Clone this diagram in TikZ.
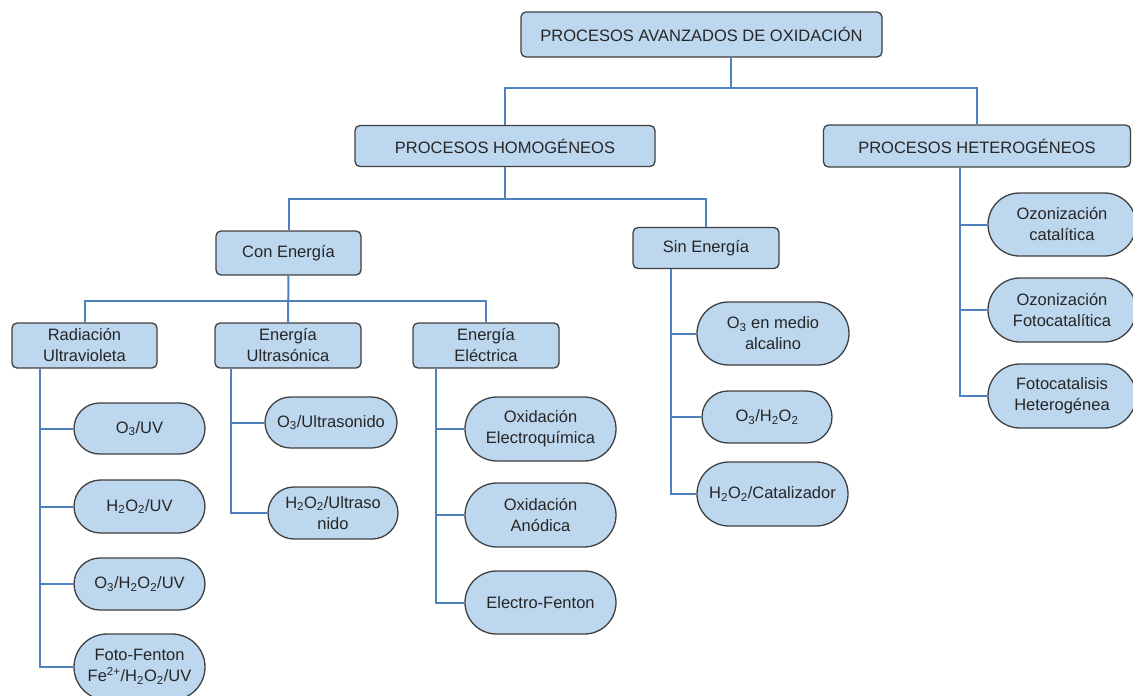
\documentclass[tikz,border=0pt]{standalone}
\usepackage{fontspec}
\setmainfont{Liberation Sans}
\usepackage{tikz}
\usetikzlibrary{shapes.misc}
\definecolor{boxfill}{HTML}{BDD7EE}
\definecolor{boxline}{HTML}{404040}
\definecolor{linkblue}{HTML}{4F81BD}
\definecolor{txtgray}{HTML}{262626}
\newcommand{\ozone}{O\textsubscript{3}}
\newcommand{\perox}{H\textsubscript{2}O\textsubscript{2}}
\begin{document}
\begin{tikzpicture}[x=1pt, y=-1pt,
    every node/.style={font=\fontsize{16.5}{21}\selectfont, text=txtgray, align=center, inner sep=0pt},
    head/.style={draw=boxline, fill=boxfill, line width=1.3pt, rounded corners=5pt},
    leaf/.style={rounded rectangle, draw=boxline, fill=boxfill, line width=1.3pt},
    wh/.style 2 args={minimum width=#1pt, minimum height=#2pt},
    link/.style={draw=linkblue, line width=2pt}]
        \useasboundingbox (0,0) rectangle (1133,696);
        % Nodes
        \node[head, wh={361}{45}] (pao) at (701.5, 34.5) {PROCESOS AVANZADOS DE OXIDACIÓN};
        \node[head, wh={300}{41}] (hom) at (505, 146) {PROCESOS HOMOGÉNEOS};
        \node[head, wh={307}{42}] (het) at (977, 146) {PROCESOS HETEROGÉNEOS};
        \node[head, wh={145}{44}] (con) at (288.5, 253) {Con Energía};
        \node[head, wh={146}{41}] (sin) at (706, 248) {Sin Energía};
        \node[head, wh={145}{45}] (rad) at (84.5, 345.5) {Radiación\\Ultravioleta};
        \node[head, wh={146}{45}] (ult) at (288, 345.5) {Energía\\Ultrasónica};
        \node[head, wh={146}{45}] (ele) at (486, 345.5) {Energía\\Eléctrica};
        \node[leaf, wh={131}{51}] (o3uv) at (139.5, 428.5) {\ozone/UV};
        \node[leaf, wh={131}{53}] (h2o2uv) at (139.5, 506.5) {\perox/UV};
        \node[leaf, wh={131}{52}] (o3h2o2uv) at (139.5, 584) {\ozone/\perox/UV};
        \node[leaf, wh={131}{66}] (foto) at (139.5, 667) {Foto-Fenton\\Fe\textsuperscript{2+}/\perox/UV};
        \node[leaf, wh={132}{51}] (o3us) at (331, 422.5) {\ozone/Ultrasonido};
        \node[leaf, wh={130}{52}] (h2o2us) at (333, 513) {\perox/Ultraso\\nido};
        \node[leaf, wh={151}{64}] (oxe) at (540.5, 429) {Oxidación\\Electroquímica};
        \node[leaf, wh={151}{64}] (oxa) at (540.5, 515) {Oxidación\\Anódica};
        \node[leaf, wh={151}{63}] (ef) at (540.5, 602.5) {Electro-Fenton};
        \node[leaf, wh={152}{63}] (o3alc) at (773, 333.5) {\ozone{} en medio\\alcalino};
        \node[leaf, wh={130}{52}] (o3h2o2) at (767, 417) {\ozone/\perox};
        \node[leaf, wh={151}{64}] (h2o2cat) at (772.5, 494) {\perox/Catalizador};
        \node[leaf, wh={148}{63}] (ozc) at (1062, 224.5) {Ozonización\\catalítica};
        \node[leaf, wh={148}{64}] (ozf) at (1062, 310) {Ozonización\\Fotocatalítica};
        \node[leaf, wh={148}{64}] (fh) at (1062, 396) {Fotocatalisis\\Heterogénea};
        % Edges
        \coordinate (top) at (731, 88);
        \coordinate (mid) at (505, 199);
        \coordinate (low) at (289, 301);
        \draw[link] (pao.south -| top) -- (top);
        \draw[link] (hom.north) |- (top) -| (het.north);
        \draw[link] (hom.south) -- (mid);
        \draw[link] (con.north) |- (mid) -| (sin.north);
        \draw[link] (con.south) -- (ult.north);
        \draw[link] (rad.north) |- (low) -| (ele.north);
        \foreach \n in {o3uv, h2o2uv, o3h2o2uv, foto}
            \draw[link] ([xshift=29pt]rad.south west) |- (\n.west);
        \foreach \n in {o3us, h2o2us}
            \draw[link] ([xshift=17pt]ult.south west) |- (\n.west);
        \foreach \n in {oxe, oxa, ef}
            \draw[link] ([xshift=24pt]ele.south west) |- (\n.west);
        \foreach \n in {o3alc, o3h2o2, h2o2cat}
            \draw[link] ([xshift=39pt]sin.south west) |- (\n.west);
        \foreach \n in {ozc, ozf, fh}
            \draw[link] ([xshift=137pt]het.south west) |- (\n.west);
    \end{tikzpicture}
\end{document}
